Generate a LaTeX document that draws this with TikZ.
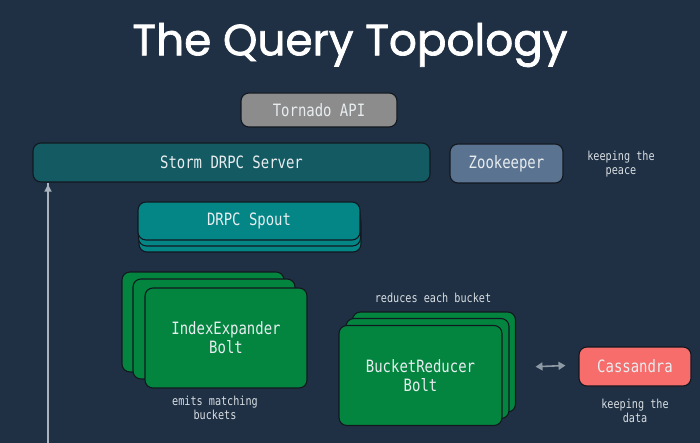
\documentclass[tikz,border=0pt]{standalone}
\usepackage{fontspec}
\usetikzlibrary{arrows.meta}
\newfontfamily\monof[FakeStretch=0.82]{DejaVu Sans Mono}
\newfontfamily\titlef[FakeBold=1.6]{Poppins}
\definecolor{bgc}{HTML}{1F3044}
\definecolor{tornadoc}{HTML}{8C8C8C}
\definecolor{stormc}{HTML}{135A62}
\definecolor{zooc}{HTML}{5A7390}
\definecolor{spoutc}{HTML}{058686}
\definecolor{boltc}{HTML}{03853F}
\definecolor{cassc}{HTML}{F66D6B}
\definecolor{txtc}{HTML}{E8EDF0}
\definecolor{notec}{HTML}{D8DEE3}
\definecolor{linec}{HTML}{121820}
\definecolor{arrc}{HTML}{A9B4BF}
\definecolor{darrc}{HTML}{8D99A5}
\tikzset{
  box/.style={draw=linec, line width=1.1pt, rounded corners=8pt, text=txtc,
    font=\monof\fontsize{17}{19}\selectfont, align=center, inner sep=0pt},
  note/.style={text=notec, font=\monof\fontsize{12.4}{13.5}\selectfont, align=center, inner sep=0pt},
}
\begin{document}
\begin{tikzpicture}[x=1pt,y=-1pt]
\fill[bgc] (0,0) rectangle (700,443);
\useasboundingbox (0,0) rectangle (700,443);
\node[text=white, inner sep=0pt] (title) at (350,45) {\resizebox{435pt}{!}{\titlef\fontsize{42}{46}\selectfont The Query Topology}};
\node[box, fill=tornadoc, minimum width=156pt, minimum height=34pt] (tornado) at (319,110) {Tornado API};
\node[box, fill=stormc, minimum width=397pt, minimum height=39pt] (storm) at (231.5,162.5) {Storm DRPC Server};
\node[box, fill=zooc, minimum width=113pt, minimum height=39pt] (zoo) at (506.5,163.5) {Zookeeper};
\node[note] (peace) at (621,164) {keeping the\\peace};
% DRPC spout stack
\node[box, fill=spoutc, minimum width=222pt, minimum height=38pt] (spout3) at (250,233) {};
\node[box, fill=spoutc, minimum width=222pt, minimum height=38pt] (spout2) at (249.5,227) {};
\node[box, fill=spoutc, minimum width=222pt, minimum height=38pt] (spout) at (249,221) {DRPC Spout};
% IndexExpander stack
\node[box, fill=boltc, minimum width=162pt, minimum height=100pt] (idx3) at (203,322) {};
\node[box, fill=boltc, minimum width=162pt, minimum height=100pt] (idx2) at (214,329) {};
\node[box, fill=boltc, minimum width=162pt, minimum height=100pt] (idx) at (226,338) {IndexExpander\\Bolt};
\node[note] (emits) at (215,408) {emits matching\\buckets};
% BucketReducer stack
\node[note] (reduces) at (433,298) {reduces each bucket};
\node[box, fill=boltc, minimum width=163pt, minimum height=100pt] (buck3) at (434,362) {};
\node[box, fill=boltc, minimum width=163pt, minimum height=100pt] (buck2) at (427.5,368.5) {};
\node[box, fill=boltc, minimum width=163pt, minimum height=100pt] (buck) at (420.5,375.5) {BucketReducer\\Bolt};
\node[box, fill=cassc, minimum width=112pt, minimum height=39pt] (cass) at (635,366.5) {Cassandra};
\node[note] (data) at (635,411) {keeping the\\data};
% connectors
\coordinate (vbot) at (48,445);
\draw[arrc, line width=1.3pt, -{Triangle[length=7pt,width=7pt]}] (vbot) -- (vbot |- storm.south) ++(0,2);
\draw[darrc, line width=1.6pt, {Triangle[length=7pt,width=8pt]}-{Triangle[length=7pt,width=8pt]}, shorten <=33pt, shorten >=13pt] (buck.east |- cass.west) ++(0,1.5) -- ([yshift=1.5pt]cass.west);
\end{tikzpicture}
\end{document}
